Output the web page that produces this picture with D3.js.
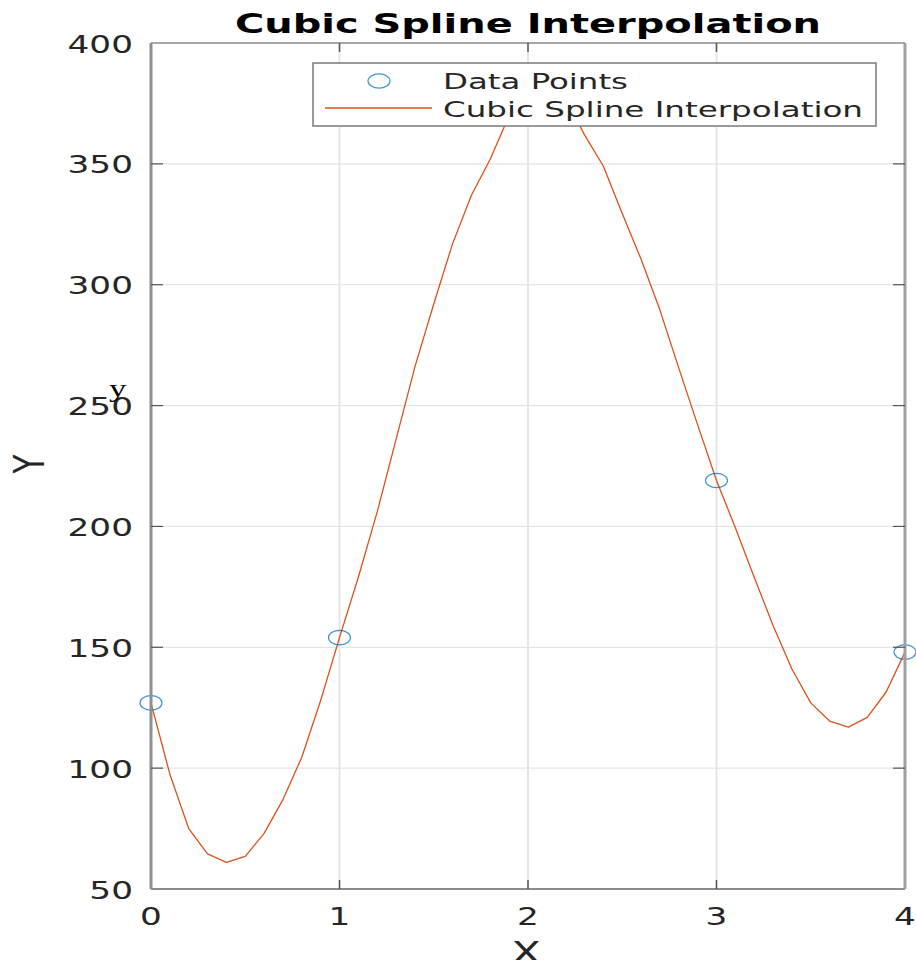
<!DOCTYPE html>
<html><head><meta charset="utf-8">
<script src="https://cdn.jsdelivr.net/npm/d3@7"></script>
<style>body{margin:0;background:#fff;overflow:hidden}</style></head>
<body><svg id="c" width="916" height="960"></svg>
<script>
// ---- data ----
const xTickValues = [0, 1, 2, 3, 4];
const yTickValues = [50, 100, 150, 200, 250, 300, 350, 400];
const pointX = [0, 1, 3, 4];
const pointY = [127, 154, 219, 148];
const splineX = [0, 0.1, 0.2, 0.3, 0.4, 0.5, 0.6, 0.7, 0.8, 0.9,
                 1.0, 1.1, 1.2, 1.3, 1.4, 1.5, 1.6, 1.7, 1.8, 1.9,
                 2.0, 2.1, 2.2, 2.3, 2.4, 2.5, 2.6, 2.7, 2.8, 2.9,
                 3.0, 3.1, 3.2, 3.3, 3.4, 3.5, 3.6, 3.7, 3.8, 3.9, 4.0];
const splineY = [127, 97.5, 75, 64.5, 61, 63.5, 73, 87, 104.5, 128,
                 154, 179, 206, 236, 266, 292, 317, 337, 352, 370,
                 381, 384, 377, 362, 349, 329.5, 310.5, 289.5, 265.5, 242,
                 219, 199.5, 179, 159, 141, 127, 119.5, 117, 121, 131.5, 148];
const titleText = "Cubic Spline Interpolation";
const xLabel = "X", yLabel = "Y", strayLabel = "y";
const legendLabels = ["Data Points", "Cubic Spline Interpolation"];

// ---- layout ----
const L = 151, R = 905, T = 43, B = 889;
const SX = 1.4;               // horizontal stretch of the original picture
const blue = "#0072BD", orange = "#D95319";
const font = "'DejaVu Sans', sans-serif";

const svg = d3.select("#c");
const x = d3.scaleLinear().domain([0, 4]).range([L, R]);
const y = d3.scaleLinear().domain([50, 400]).range([B, T]);

svg.append("rect").attr("width", 916).attr("height", 960).attr("fill", "#fff");

// grid
const grid = svg.append("g");
grid.selectAll("line.gx").data(xTickValues.slice(1, -1)).join("line")
  .attr("x1", d => x(d)).attr("x2", d => x(d)).attr("y1", T).attr("y2", B)
  .attr("stroke", "#e3e3e3").attr("stroke-width", 1.8);
grid.selectAll("line.gy").data(yTickValues.slice(1, -1)).join("line")
  .attr("x1", L).attr("x2", R).attr("y1", d => y(d)).attr("y2", d => y(d))
  .attr("stroke", "#e6e6e6").attr("stroke-width", 1.2);

// clip
svg.append("clipPath").attr("id", "clip").append("rect")
  .attr("x", L).attr("y", T).attr("width", R - L).attr("height", B - T);

// spline line
const lineGen = d3.line().x((d, i) => x(splineX[i])).y(d => y(d));
svg.append("path").datum(splineY).attr("clip-path", "url(#clip)")
  .attr("d", lineGen).attr("fill", "none").attr("stroke", orange)
  .attr("stroke-width", 1.3).attr("stroke-linejoin", "round");

// data points
svg.selectAll("ellipse.pt").data(pointY).join("ellipse")
  .attr("cx", (d, i) => x(pointX[i])).attr("cy", d => y(d))
  .attr("rx", 11).attr("ry", 7.2)
  .attr("fill", "none").attr("stroke", blue).attr("stroke-opacity", 0.75).attr("stroke-width", 1.2);

// axes box
const box = svg.append("g");
box.append("line").attr("x1", L).attr("x2", R).attr("y1", T).attr("y2", T).attr("stroke", "#8a8a8a").attr("stroke-width", 1.5);
box.append("line").attr("x1", L).attr("x2", R).attr("y1", B).attr("y2", B).attr("stroke", "#666").attr("stroke-width", 1.5);
box.append("line").attr("x1", L).attr("x2", L).attr("y1", T).attr("y2", B).attr("stroke", "#8f8f8f").attr("stroke-width", 3);
box.append("line").attr("x1", R).attr("x2", R).attr("y1", T).attr("y2", B).attr("stroke", "#a0a0a0").attr("stroke-width", 3);

// ticks (inward)
box.selectAll("line.tb").data(xTickValues.slice(1, -1)).join("line")
  .attr("x1", d => x(d)).attr("x2", d => x(d)).attr("y1", B).attr("y2", B - 9).attr("stroke", "#555").attr("stroke-width", 1.5);
box.selectAll("line.tt").data(xTickValues.slice(1, -1)).join("line")
  .attr("x1", d => x(d)).attr("x2", d => x(d)).attr("y1", T).attr("y2", T + 9).attr("stroke", "#555").attr("stroke-width", 1.5);
box.selectAll("line.tl").data(yTickValues.slice(1, -1)).join("line")
  .attr("x1", L).attr("x2", L + 12).attr("y1", d => y(d)).attr("y2", d => y(d)).attr("stroke", "#555").attr("stroke-width", 1.2);
box.selectAll("line.tr").data(yTickValues.slice(1, -1)).join("line")
  .attr("x1", R).attr("x2", R - 12).attr("y1", d => y(d)).attr("y2", d => y(d)).attr("stroke", "#555").attr("stroke-width", 1.2);

// tick labels
const tickFont = 24.5;
svg.append("g").selectAll("text").data(yTickValues).join("text")
  .attr("transform", d => `translate(${L - 18},${y(d) + 9.5}) scale(${SX},1)`)
  .attr("text-anchor", "end").attr("font-family", font).attr("font-size", tickFont)
  .attr("fill", "#262626").text(d => d);
svg.append("g").selectAll("text").data(xTickValues).join("text")
  .attr("transform", d => `translate(${x(d)},${B + 36}) scale(${SX},1)`)
  .attr("text-anchor", "middle").attr("font-family", font).attr("font-size", tickFont)
  .attr("fill", "#262626").text(d => d);

// axis labels
svg.append("text").attr("transform", `translate(${x(2) - 2},${963}) scale(${SX},1)`)
  .attr("text-anchor", "middle").attr("font-family", font).attr("font-size", 31)
  .attr("fill", "#262626").text(xLabel);
svg.append("text").attr("transform", `translate(44,${464}) scale(${SX},1) rotate(-90)`)
  .attr("text-anchor", "middle").attr("font-family", font).attr("font-size", 31)
  .attr("fill", "#262626").text(yLabel);

// stray serif y
svg.append("text").attr("transform", `translate(109,397) scale(${SX},1)`)
  .attr("font-family", "'Liberation Serif', 'Times New Roman', serif").attr("font-size", 25)
  .attr("fill", "#000").text(strayLabel);

// title
svg.append("text").attr("x", 528).attr("y", 33).attr("text-anchor", "middle")
  .attr("font-family", font).attr("font-weight", "bold").attr("font-size", 27)
  .attr("textLength", 586).attr("lengthAdjust", "spacingAndGlyphs")
  .attr("fill", "#000").text(titleText);

// legend
const lg = svg.append("g");
lg.append("rect").attr("x", 313).attr("y", 63).attr("width", 563).attr("height", 63)
  .attr("fill", "#fff").attr("stroke", "#7a7a7a").attr("stroke-width", 1.5);
lg.append("ellipse").attr("cx", 379).attr("cy", 81).attr("rx", 11).attr("ry", 7.2)
  .attr("fill", "none").attr("stroke", blue).attr("stroke-opacity", 0.75).attr("stroke-width", 1.2);
lg.append("line").attr("x1", 325).attr("x2", 432).attr("y1", 108).attr("y2", 108)
  .attr("stroke", orange).attr("stroke-width", 1.3);
const legendWidths = [185, 420];
const legendBase = [88.5, 117];
lg.selectAll("text").data(legendLabels).join("text")
  .attr("x", 443).attr("y", (d, i) => legendBase[i])
  .attr("font-family", font).attr("font-size", 21.5)
  .attr("textLength", (d, i) => legendWidths[i]).attr("lengthAdjust", "spacingAndGlyphs")
  .attr("fill", "#262626").text(d => d);
</script></body></html>
